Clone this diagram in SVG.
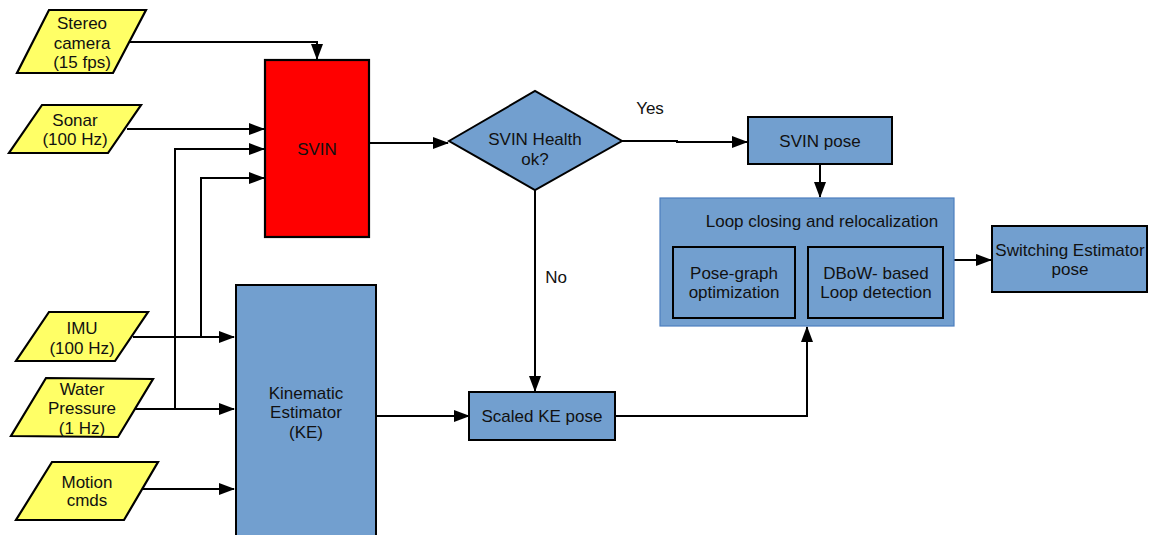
<svg xmlns="http://www.w3.org/2000/svg" width="1151" height="535" viewBox="0 0 1151 535">
<style>
text{font-family:"Liberation Sans",Arial,sans-serif;font-size:17px;fill:#111;text-anchor:middle}
.in{fill:#ffff66;stroke:#000;stroke-width:2.2}
.blue{fill:#729fcf;stroke:#000;stroke-width:2}
.c{fill:none;stroke:#000;stroke-width:2}
</style>
<defs>
<marker id="ah" markerUnits="userSpaceOnUse" markerWidth="16" markerHeight="12" refX="15" refY="6" orient="auto">
<path d="M0,0 L16,6 L0,12 Z" fill="#000"/>
</marker>
</defs>
<g id="connectors">
<polyline class="c" points="130,42 317,42 317,59" marker-end="url(#ah)"/>
<line class="c" x1="127" y1="129" x2="264" y2="129" marker-end="url(#ah)"/>
<polyline class="c" points="175,409 175,149 264,149" marker-end="url(#ah)"/>
<polyline class="c" points="201,337 201,178 264,178" marker-end="url(#ah)"/>
<line class="c" x1="133" y1="337" x2="234" y2="337" marker-end="url(#ah)"/>
<line class="c" x1="133" y1="409" x2="234" y2="409" marker-end="url(#ah)"/>
<line class="c" x1="135" y1="489" x2="234" y2="489" marker-end="url(#ah)"/>
<line class="c" x1="369" y1="143" x2="448" y2="143" marker-end="url(#ah)"/>
<polyline class="c" points="622,141 677,141 677,142 747,142" marker-end="url(#ah)"/>
<line class="c" x1="535" y1="190" x2="535" y2="391" marker-end="url(#ah)"/>
<line class="c" x1="376" y1="416" x2="469" y2="416" marker-end="url(#ah)"/>
<polyline class="c" points="615,416 807,416 807,327" marker-end="url(#ah)"/>
<line class="c" x1="820" y1="164" x2="820" y2="197" marker-end="url(#ah)"/>
<line class="c" x1="954" y1="260" x2="991" y2="260" marker-end="url(#ah)"/>
<text x="650" y="114">Yes</text>
<text x="556" y="283">No</text>
</g>
<g id="stereo">
<polygon class="in" points="49,10 146,10 113,73 17,73"/>
<text x="82" y="29">Stereo</text><text x="82" y="49">camera</text><text x="82" y="68">(15 fps)</text>
</g>
<g id="sonar">
<polygon class="in" points="42,105 141,105 108,153 9,153"/>
<text x="75" y="126">Sonar</text><text x="75" y="145">(100 Hz)</text>
</g>
<g id="imu">
<polygon class="in" points="49,312 148,312 115,361 16,361"/>
<text x="82" y="334">IMU</text><text x="82" y="354">(100 Hz)</text>
</g>
<g id="water">
<polygon class="in" points="46,378 153,379 118,437 11,436"/>
<text x="82" y="395">Water</text><text x="82" y="414">Pressure</text><text x="82" y="434">(1 Hz)</text>
</g>
<g id="motion">
<polygon class="in" points="52,462 158,462 124,520 16,520"/>
<text x="87" y="488">Motion</text><text x="87" y="506">cmds</text>
</g>
<g id="svin">
<rect x="265" y="60" width="104" height="177" fill="#ff0000" stroke="#000" stroke-width="2.2"/>
<text x="317" y="155">SVIN</text>
</g>
<g id="ke">
<rect class="blue" x="236" y="285" width="140" height="260"/>
<text x="306" y="399">Kinematic</text><text x="306" y="418">Estimator</text><text x="306" y="438">(KE)</text>
</g>
<g id="health">
<polygon class="blue" points="449,141 535,91 622,141 535,190" stroke-width="1.6"/>
<text x="535" y="145">SVIN Health</text><text x="535" y="165">ok?</text>
</g>
<g id="svinpose">
<rect class="blue" x="748" y="117" width="144" height="47" stroke-width="1.6"/>
<text x="820" y="147">SVIN pose</text>
</g>
<g id="scaledke">
<rect class="blue" x="469" y="392" width="146" height="48"/>
<text x="542" y="422">Scaled KE pose</text>
</g>
<g id="loop">
<rect x="660" y="198" width="294" height="128" fill="#729fcf" stroke="#4d7fbf" stroke-width="1.2"/>
<text x="822" y="227">Loop closing and relocalization</text>
<rect class="blue" x="673" y="247" width="122" height="71" stroke-width="3"/>
<text x="734" y="279">Pose-graph</text><text x="734" y="298">optimization</text>
<rect class="blue" x="808" y="247" width="135" height="71" stroke-width="3"/>
<text x="876" y="279">DBoW- based</text><text x="876" y="298">Loop detection</text>
</g>
<g id="switching">
<rect class="blue" x="992" y="226" width="155" height="66"/>
<text x="1070" y="256">Switching Estimator</text><text x="1070" y="275">pose</text>
</g>
</svg>
